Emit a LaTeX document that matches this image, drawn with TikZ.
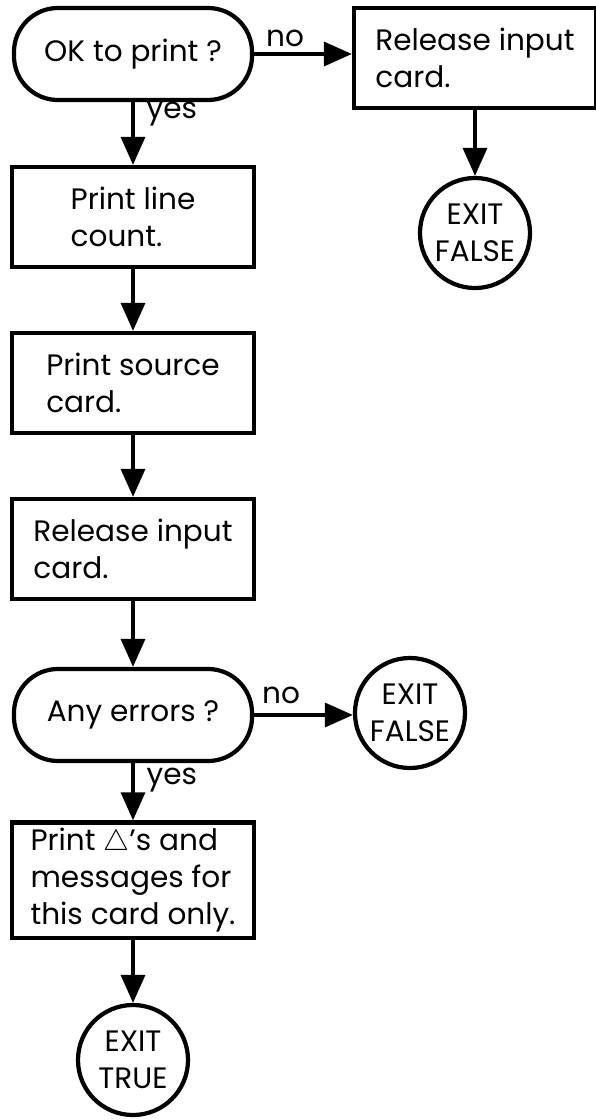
\documentclass[tikz,border=0pt]{standalone}
\usepackage{fontspec}
\setmainfont{Poppins}
\usetikzlibrary{positioning,arrows.meta}

\begin{document}
\begin{tikzpicture}[x=0.025cm,y=-0.025cm]
\tikzstyle{mythick}=[line width=3pt];
\tikzstyle{txt}=[font=\fontsize{21}{26}\selectfont];
\tikzstyle{term}=[draw=black,rectangle,rounded corners=1.1cm,mythick,txt,minimum width=5.95cm,minimum height=2.3cm];
\tikzstyle{proc}=[draw=black,rectangle,mythick,txt,align=left,minimum width=6.05cm,minimum height=2.5cm];
\tikzstyle{ex}=[draw=black,circle,mythick,txt,align=center,inner sep=0pt,minimum size=2.75cm];
\tikzstyle{ed}=[draw=black,line width=2.4pt,-{Triangle[length=0.7cm,width=0.6cm]}];
\tikzstyle{lab}=[txt,inner sep=1pt];
\useasboundingbox (0,0) rectangle (596,1120);
\node [term] (ok) at (133,54) {OK to print ?};
\node [proc] (rel1) at (475,58) {Release input\\card.};
\node [ex] (exf1) at (475,233) {EXIT\\FALSE};
\node [proc] (plc) at (133,217) {Print line\\count.};
\node [proc] (psc) at (133,383) {Print source\\card.};
\node [proc] (rel2) at (133,549) {Release input\\card.};
\node [term] (any) at (133,715) {Any errors ?};
\node [ex] (exf2) at (410,713) {EXIT\\FALSE};
\node [proc,minimum height=2.88cm] (pdel) at (133,880) {Print $\triangle$'s and\\messages for\\this card only.};
\node [ex] (ext) at (133,1060) {EXIT\\TRUE};
\node [lab] (no1) at (285,38) {no};
\node [lab,anchor=west] (yes1) at (145,114) {yes};
\node [lab] (no2) at (281,695) {no};
\node [lab,anchor=west] (yes2) at (145,780) {yes};
\draw [ed] (ok.east) -- (ok.east -| rel1.west);
\draw [ed] (rel1) -- (exf1);
\draw [ed] (ok) -- (plc);
\draw [ed] (plc) -- (psc);
\draw [ed] (psc) -- (rel2);
\draw [ed] (rel2) -- (any);
\draw [ed] (any.east) -- (any.east -| exf2.west);
\draw [ed] (any) -- (pdel);
\draw [ed] (pdel) -- (ext);
\end{tikzpicture}
\end{document}
